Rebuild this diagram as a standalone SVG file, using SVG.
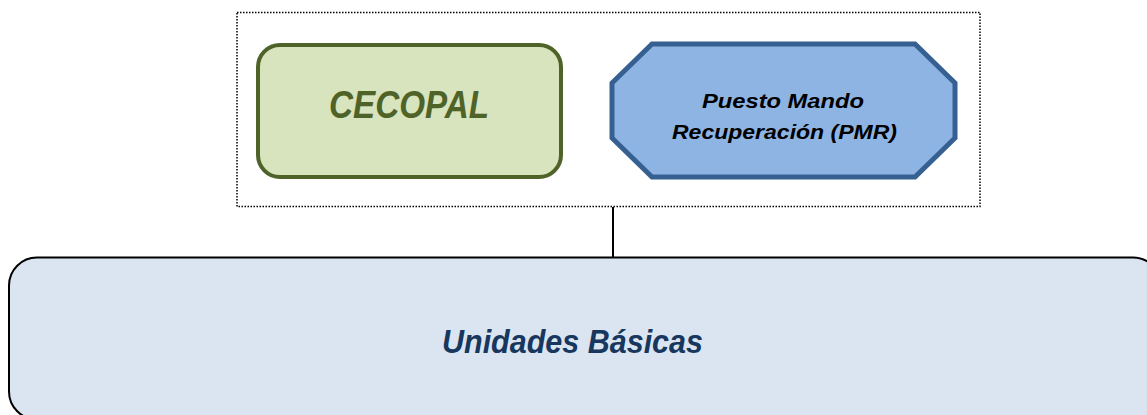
<svg xmlns="http://www.w3.org/2000/svg" width="1147" height="415" viewBox="0 0 1147 415">
  <style>
    .t { font-family: "Liberation Sans", Arial, sans-serif; font-weight: bold; font-style: italic; }
  </style>
  <rect width="1147" height="415" fill="#ffffff"/>
  <g id="connectors">
    <line x1="613" y1="207" x2="613" y2="257" stroke="#000000" stroke-width="2"/>
  </g>
  <g id="group-box">
    <rect x="237" y="12.5" width="743" height="194" fill="none" stroke="#000000" stroke-width="1.5" stroke-dasharray="1.5 1.5"/>
  </g>
  <g id="cecopal">
    <rect x="258" y="45" width="303" height="132" rx="22" ry="22" fill="#d7e4bd" stroke="#4f6228" stroke-width="4"/>
    <text class="t" x="409" y="118" font-size="39" fill="#4f6228" text-anchor="middle" textLength="160" lengthAdjust="spacingAndGlyphs">CECOPAL</text>
  </g>
  <g id="pmr">
    <polygon points="652,44 915,44 955,83 955,138 915,177 652,177 612,138 612,83" fill="#8eb4e3" stroke="#376092" stroke-width="5" stroke-linejoin="miter"/>
    <text class="t" x="783" y="108" font-size="21" fill="#000000" text-anchor="middle" textLength="162" lengthAdjust="spacingAndGlyphs">Puesto  Mando</text>
    <text class="t" x="784.5" y="139" font-size="21" fill="#000000" text-anchor="middle" textLength="225" lengthAdjust="spacingAndGlyphs">Recuperación (PMR)</text>
  </g>
  <g id="unidades">
    <rect x="9" y="257.5" width="1152" height="162" rx="28" ry="28" fill="#dbe5f1" stroke="#000000" stroke-width="2"/>
    <text class="t" x="572.5" y="353" font-size="33" fill="#17375e" text-anchor="middle" textLength="261" lengthAdjust="spacingAndGlyphs">Unidades Básicas</text>
  </g>
</svg>
